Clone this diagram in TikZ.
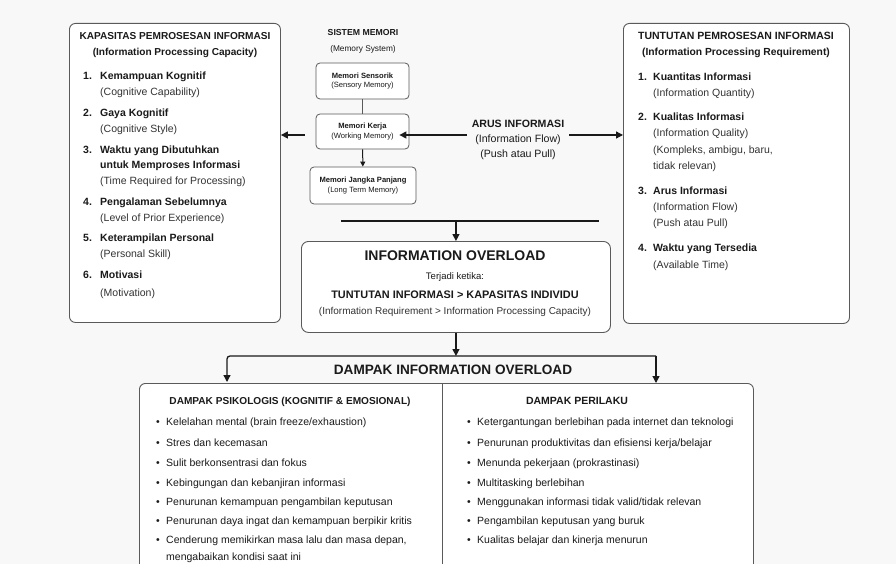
\documentclass[tikz,border=0pt]{standalone}
\usepackage{fontspec}
\setmainfont{Liberation Sans}
\usetikzlibrary{arrows.meta}
\definecolor{bg}{HTML}{F8F8F8}
\definecolor{edge}{HTML}{5A5A5A}
\definecolor{txt}{HTML}{1A1A1A}
\definecolor{subc}{HTML}{333333}
\begin{document}
\begin{tikzpicture}[x=1pt,y=-1pt,
  panel/.style={draw=edge,line width=0.9pt,rounded corners=6pt,fill=white,inner sep=0pt,anchor=north west},
  membox/.style={draw=edge,line width=0.8pt,rounded corners=4pt,fill=white,align=center,inner sep=0pt,font=\fontsize{7.6}{9.5}\selectfont,text=txt},
  arr/.style={draw=txt,line width=1.3pt,-{Triangle[length=7pt,width=7pt]}},
  ln/.style={draw=txt,line width=1.3pt},
  base/.style={inner sep=0pt,text height=0.75em,text depth=0.22em,text=txt},
  it/.style={base,anchor=west,font=\fontsize{10.5}{12}\selectfont},
  itb/.style={base,anchor=west,font=\fontsize{10.5}{12}\selectfont\bfseries},
  hd/.style={base,font=\fontsize{10.1}{12}\selectfont\bfseries},
  sb/.style={it,text=subc},
  bl/.style={it},
]
\fill[bg] (0,0) rectangle (896,564);
\clip (0,0) rectangle (896,564);

% ---------- panels ----------
\node[panel,minimum width=211pt,minimum height=299pt] (cap) at (69,23) {};
\node[panel,minimum width=226pt,minimum height=300pt] (req) at (623,23) {};
\node[panel,minimum width=309pt,minimum height=91pt,rounded corners=7pt] (ov) at (301,241) {};
\node[panel,minimum width=614pt,minimum height=220pt] (imp) at (139,383) {};
\draw[draw=edge,line width=0.9pt] (imp.north) ++(-4.5,0) coordinate (dv) -- (dv |- imp.south);

% ---------- left panel ----------
\node[hd] (capT) at (175,37) {KAPASITAS PEMROSESAN INFORMASI};
\node[hd] (capS) at (175,53) {(Information Processing Capacity)};
\node[itb] (c1n) at (83,77) {1.};
\node[itb] (c1a) at (100,77) {Kemampuan Kognitif};
\node[sb]  (c1b) at (100,93) {(Cognitive Capability)};
\node[itb] (c2n) at (83,114) {2.};
\node[itb] (c2a) at (100,114) {Gaya Kognitif};
\node[sb]  (c2b) at (100,130) {(Cognitive Style)};
\node[itb] (c3n) at (83,151) {3.};
\node[itb] (c3a) at (100,151) {Waktu yang Dibutuhkan};
\node[itb] (c3b) at (100,166) {untuk Memproses Informasi};
\node[sb]  (c3c) at (100,182) {(Time Required for Processing)};
\node[itb] (c4n) at (83,203) {4.};
\node[itb] (c4a) at (100,203) {Pengalaman Sebelumnya};
\node[sb]  (c4b) at (100,219) {(Level of Prior Experience)};
\node[itb] (c5n) at (83,239) {5.};
\node[itb] (c5a) at (100,239) {Keterampilan Personal};
\node[sb]  (c5b) at (100,255) {(Personal Skill)};
\node[itb] (c6n) at (83,276) {6.};
\node[itb] (c6a) at (100,276) {Motivasi};
\node[sb]  (c6b) at (100,294) {(Motivation)};

% ---------- right panel ----------
\node[hd,font=\fontsize{10.5}{12}\selectfont\bfseries] (reqT) at (736,37) {TUNTUTAN PEMROSESAN INFORMASI};
\node[hd,font=\fontsize{10.3}{12}\selectfont\bfseries] (reqS) at (736,53) {(Information Processing Requirement)};
\node[itb] (r1n) at (638,78) {1.};
\node[itb] (r1a) at (653,78) {Kuantitas Informasi};
\node[sb]  (r1b) at (653,94) {(Information Quantity)};
\node[itb] (r2n) at (638,118) {2.};
\node[itb] (r2a) at (653,118) {Kualitas Informasi};
\node[sb]  (r2b) at (653,134) {(Information Quality)};
\node[sb]  (r2c) at (653,151) {(Kompleks, ambigu, baru,};
\node[sb]  (r2d) at (653,167) {tidak relevan)};
\node[itb] (r3n) at (638,192) {3.};
\node[itb] (r3a) at (653,192) {Arus Informasi};
\node[sb]  (r3b) at (653,208) {(Information Flow)};
\node[sb]  (r3c) at (653,224) {(Push atau Pull)};
\node[itb] (r4n) at (638,249) {4.};
\node[itb] (r4a) at (653,249) {Waktu yang Tersedia};
\node[sb]  (r4b) at (653,266) {(Available Time)};

% ---------- memory system ----------
\node[base,font=\fontsize{8.7}{10}\selectfont\bfseries] (memT) at (363,33) {SISTEM MEMORI};
\node[base,font=\fontsize{8.3}{10}\selectfont] (memS) at (363,49) {(Memory System)};
\node[membox,minimum width=93pt,minimum height=36pt] (m1) at (362.5,81) {\textbf{Memori Sensorik}\\(Sensory Memory)};
\node[membox,minimum width=93pt,minimum height=35pt] (m2) at (362.5,131.5) {\textbf{Memori Kerja}\\(Working Memory)};
\node[membox,minimum width=106pt,minimum height=37pt] (m3) at (363,185.5) {\textbf{Memori Jangka Panjang}\\(Long Term Memory)};
\draw[draw=edge,line width=0.9pt] (m1) -- (m2);
\draw[arr,line width=1pt,-{Triangle[length=5pt,width=5pt]}] (m2) -- (m3);

\node[base,align=center,font=\fontsize{10.6}{15}\selectfont,text height=,text depth=] (arus) at (518,140)
  {\textbf{ARUS INFORMASI}\\(Information Flow)\\(Push atau Pull)};
\draw[arr] ([yshift=5pt]arus.west) ++(-5,0) -- ([yshift=-3.5pt,xshift=-10pt]m2.east);
\draw[arr] ([yshift=5pt]arus.east) ++(5,0) -- ([yshift=5pt]arus.east -| req.west);
\draw[arr] ([yshift=-3.5pt,xshift=-11pt]m2.west) -- ([yshift=-3.5pt]m2.west -| cap.east);

% ---------- convergence into overload ----------
\coordinate (hl) at (341,221);
\coordinate (hr) at (599,221);
\draw[ln] (hl) -- (hr);
\draw[arr] (ov.north |- hl) -- (ov.north);

\node[base,font=\fontsize{14}{16}\selectfont\bfseries] (ovT) at (455,258) {INFORMATION OVERLOAD};
\node[base,font=\fontsize{9.5}{11}\selectfont] (ovA) at (455,277) {Terjadi ketika:};
\node[base,font=\fontsize{10.9}{12}\selectfont\bfseries] (ovB) at (455,296) {TUNTUTAN INFORMASI > KAPASITAS INDIVIDU};
\node[base,font=\fontsize{10}{12}\selectfont,text=subc] (ovC) at (455,312) {(Information Requirement > Information Processing Capacity)};

% ---------- split into impacts ----------
\coordinate (jl) at (227,356);
\coordinate (jr) at (656,356);
\coordinate (jl2) at (227,382);
\draw[arr] (ov.south) -- (ov.south |- jl);
\draw[arr,rounded corners=3pt] (jr) -- (jl) -- (jl2);
\draw[arr] (jr) -- (jr |- imp.north);
\node[base,font=\fontsize{13.6}{15}\selectfont\bfseries] (impT) at (453,372) {DAMPAK INFORMATION OVERLOAD};

% ---------- left impacts ----------
\node[hd] (psT) at (290,402) {DAMPAK PSIKOLOGIS (KOGNITIF \& EMOSIONAL)};
\node[bl] (p1) at (166,423) {\llap{\textbullet\hspace{6.5pt}}Kelelahan mental (brain freeze/exhaustion)};
\node[bl] (p2) at (166,444) {\llap{\textbullet\hspace{6.5pt}}Stres dan kecemasan};
\node[bl] (p3) at (166,464) {\llap{\textbullet\hspace{6.5pt}}Sulit berkonsentrasi dan fokus};
\node[bl] (p4) at (166,484) {\llap{\textbullet\hspace{6.5pt}}Kebingungan dan kebanjiran informasi};
\node[bl] (p5) at (166,503) {\llap{\textbullet\hspace{6.5pt}}Penurunan kemampuan pengambilan keputusan};
\node[bl] (p6) at (166,522) {\llap{\textbullet\hspace{6.5pt}}Penurunan daya ingat dan kemampuan berpikir kritis};
\node[bl] (p7) at (166,541) {\llap{\textbullet\hspace{6.5pt}}Cenderung memikirkan masa lalu dan masa depan,};
\node[bl] (p8) at (166,558) {mengabaikan kondisi saat ini};

% ---------- right impacts ----------
\node[hd,font=\fontsize{10.5}{12}\selectfont\bfseries] (beT) at (577,402) {DAMPAK PERILAKU};
\node[bl] (q1) at (477,423) {\llap{\textbullet\hspace{6.5pt}}Ketergantungan berlebihan pada internet dan teknologi};
\node[bl] (q2) at (477,444) {\llap{\textbullet\hspace{6.5pt}}Penurunan produktivitas dan efisiensi kerja/belajar};
\node[bl] (q3) at (477,464) {\llap{\textbullet\hspace{6.5pt}}Menunda pekerjaan (prokrastinasi)};
\node[bl] (q4) at (477,484) {\llap{\textbullet\hspace{6.5pt}}Multitasking berlebihan};
\node[bl] (q5) at (477,503) {\llap{\textbullet\hspace{6.5pt}}Menggunakan informasi tidak valid/tidak relevan};
\node[bl] (q6) at (477,522) {\llap{\textbullet\hspace{6.5pt}}Pengambilan keputusan yang buruk};
\node[bl] (q7) at (477,541) {\llap{\textbullet\hspace{6.5pt}}Kualitas belajar dan kinerja menurun};
\end{tikzpicture}
\end{document}
